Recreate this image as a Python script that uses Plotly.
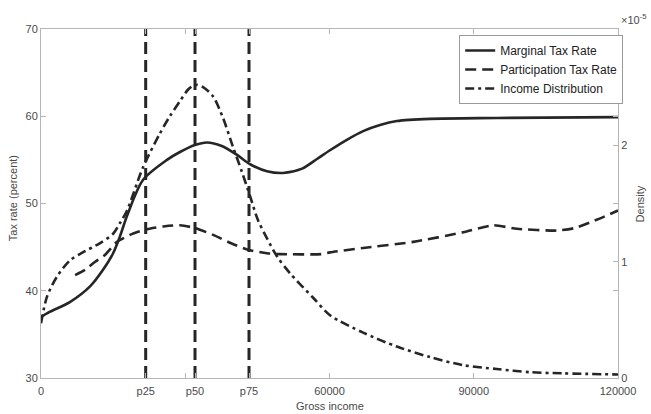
import plotly.graph_objects as go

# ---- data ----
mtr_income = [0, 1900, 6000, 10200, 12900, 15000, 16400, 17900, 21200, 26200, 28900, 32000,
              34500, 37600, 40700, 43500, 47000, 50300, 54300, 57400, 60100, 63600, 67000,
              70500, 74000, 80900, 94800, 120000]
mtr_rate = [37.0, 37.6, 38.7, 40.5, 42.4, 44.3, 46.2, 48.6, 52.7, 55.0, 55.9, 56.7,
            57.0, 56.6, 55.6, 54.5, 53.7, 53.5, 54.0, 55.1, 56.1, 57.3, 58.3,
            59.0, 59.45, 59.7, 59.8, 59.9]

ptr_income = [7100, 9200, 11200, 13300, 15800, 18500, 21600, 25800, 28900, 32000, 35800,
              39300, 43000, 47000, 49700, 58300, 60100, 67000, 77400, 87800, 94000, 99000,
              107300, 111100, 116300, 120000]
ptr_rate = [41.8, 42.4, 43.3, 44.1, 45.6, 46.4, 47.0, 47.4, 47.5, 47.2, 46.4,
            45.5, 44.7, 44.3, 44.2, 44.2, 44.4, 44.9, 45.6, 46.7, 47.5, 47.1,
            46.9, 47.2, 48.3, 49.2]

dens_income = [0, 1250, 3300, 6000, 8700, 12300, 15000, 16400, 17900, 21200, 24700, 26800,
               28900, 30600, 32000, 33700, 35800, 37900, 39900, 41800, 43500, 45100, 47000,
               49100, 51800, 56600, 60100, 67000, 74000, 80900, 87800, 94800, 101700,
               108600, 120000]
dens_value = [0.47, 0.70, 0.87, 1.01, 1.08, 1.16, 1.24, 1.33, 1.44, 1.81, 2.10, 2.25,
              2.38, 2.48, 2.52, 2.50, 2.42, 2.23, 1.99, 1.77, 1.56, 1.36, 1.20,
              1.045, 0.90, 0.69, 0.54, 0.39, 0.27, 0.18, 0.11, 0.077, 0.05,
              0.04, 0.03]
dens_scale = 1e-5

pct_labels = ["p25", "p50", "p75"]
pct_income = [21770, 32030, 43260]

x_tickvals = [0, 21770, 30000, 32030, 43260, 60000, 90000, 120000]
x_ticktext = ["0", "p25", "", "p50", "p75", "60000", "90000", "120000"]
y_ticks = [30, 40, 50, 60, 70]
y2_ticks = [0, 1, 2]

LINE = "#262626"
AX = "#b5b5b5"
TXT = "#4a4a4a"
FONT = "Liberation Sans, Arial, sans-serif"

fig = go.Figure()

fig.add_trace(go.Scatter(x=mtr_income, y=mtr_rate, mode="lines", name="Marginal Tax Rate",
                         line=dict(color=LINE, width=2.6, shape="spline", smoothing=0.8)))
fig.add_trace(go.Scatter(x=ptr_income, y=ptr_rate, mode="lines", name="Participation Tax Rate",
                         line=dict(color=LINE, width=2.6, dash="11px,6px", shape="spline", smoothing=0.6)))
fig.add_trace(go.Scatter(x=dens_income, y=[v * dens_scale for v in dens_value], mode="lines",
                         name="Income Distribution", yaxis="y2",
                         line=dict(color=LINE, width=2.6, dash="9px,4px,3px,4px", shape="spline", smoothing=0.8)))

for lab, p in zip(pct_labels, pct_income):
    fig.add_trace(go.Scatter(x=[p, p], y=[30, 70], mode="lines", showlegend=False, hoverinfo="skip",
                             line=dict(color=LINE, width=3, dash="12px,6px")))

fig.update_layout(
    width=651, height=414,
    margin=dict(l=41, r=33, t=29, b=36),
    paper_bgcolor="white", plot_bgcolor="white",
    font=dict(family=FONT, size=11, color=TXT),
    showlegend=True,
    legend=dict(x=1.009, y=0.983, xanchor="right", yanchor="top",
                bgcolor="white", bordercolor="#9a9a9a", borderwidth=1,
                font=dict(size=12, color="#222222"), tracegroupgap=0,
                itemwidth=30),
    xaxis=dict(range=[0, 120000], tickvals=x_tickvals, ticktext=x_ticktext,
               showgrid=False, zeroline=False, showline=True, linecolor=AX, linewidth=1,
               mirror="ticks", ticks="inside", ticklen=5, tickcolor=AX,
               ticklabelstandoff=3,
               tickfont=dict(size=11, color=TXT)),
    yaxis=dict(range=[30, 70], tickvals=y_ticks, showgrid=False, zeroline=False,
               showline=True, linecolor=AX, linewidth=1, mirror="ticks",
               ticks="inside", ticklen=5, tickcolor=AX, tickfont=dict(size=11, color=TXT)),
    yaxis2=dict(range=[0, 3e-5], overlaying="y", side="right",
                tickvals=[v * dens_scale for v in y2_ticks], ticktext=[str(v) for v in y2_ticks],
                showgrid=False, zeroline=False, showline=True, linecolor=AX, linewidth=1,
                ticks="inside", ticklen=5, tickcolor=AX, tickfont=dict(size=11, color=TXT)),
    annotations=[
        dict(text="Tax rate (percent)", xref="paper", yref="paper", x=-0.048, y=0.516,
             textangle=-90, showarrow=False, xanchor="center", yanchor="middle",
             font=dict(size=11, color=TXT)),
        dict(text="Density", xref="paper", yref="paper", x=1.038, y=0.5,
             textangle=-90, showarrow=False, xanchor="center", yanchor="middle",
             font=dict(size=11, color=TXT)),
        dict(text="Gross income", xref="paper", yref="paper", x=0.5, y=-0.08,
             showarrow=False, xanchor="center", yanchor="middle",
             font=dict(size=11, color=TXT)),
        dict(text="×10<sup>-5</sup>", xref="paper", yref="paper", x=1.002, y=1.03,
             showarrow=False, xanchor="left", yanchor="middle",
             font=dict(size=11, color=TXT)),
    ],
)

fig.write_html("out.html")
